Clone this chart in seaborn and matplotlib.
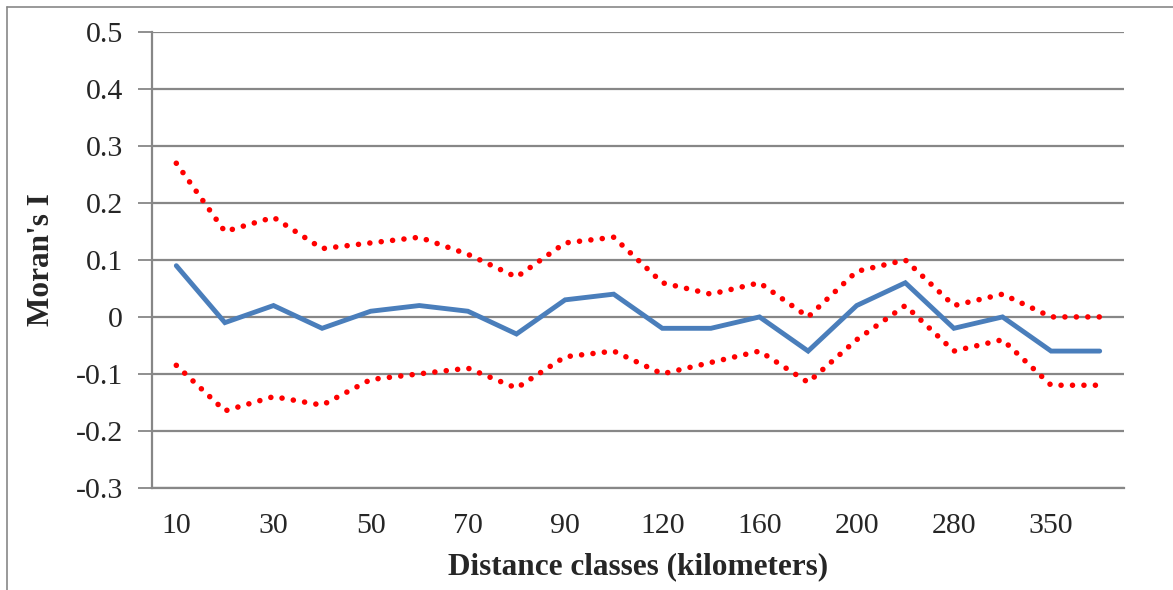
import matplotlib
matplotlib.use("Agg")
import matplotlib.pyplot as plt
import pandas as pd
import seaborn as sns

# Distance classes (km); only every other label is shown on the axis
classes = ["10", "20", "30", "40", "50", "60", "70", "80", "90", "100",
           "120", "140", "160", "180", "200", "240", "280", "320", "350", "400"]

morans_i = [0.09, -0.01, 0.02, -0.02, 0.01, 0.02, 0.01, -0.03, 0.03, 0.04,
            -0.02, -0.02, 0.0, -0.06, 0.02, 0.06, -0.02, 0.0, -0.06, -0.06]

upper_ci = [0.27, 0.15, 0.175, 0.12, 0.13, 0.14, 0.11, 0.07, 0.13, 0.14,
            0.06, 0.04, 0.06, 0.0, 0.08, 0.10, 0.02, 0.04, 0.0, 0.0]

lower_ci = [-0.085, -0.165, -0.14, -0.155, -0.11, -0.10, -0.09, -0.125, -0.07, -0.06,
            -0.10, -0.08, -0.06, -0.115, -0.04, 0.02, -0.06, -0.04, -0.12, -0.12]

y_ticks = [0.5, 0.4, 0.3, 0.2, 0.1, 0, -0.1, -0.2, -0.3]
y_tick_labels = ["0.5", "0.4", "0.3", "0.2", "0.1", "0", "-0.1", "-0.2", "-0.3"]

df = pd.DataFrame({"pos": range(len(classes)), "cls": classes, "I": morans_i,
                   "upper": upper_ci, "lower": lower_ci})

sns.set_style("white")
plt.rcParams["font.family"] = ["Liberation Serif", "DejaVu Serif"]

fig = plt.figure(figsize=(11.73, 5.90), dpi=100)
ax = fig.add_axes([152 / 1173, 1 - 487.7 / 590, (1124 - 152) / 1173, (487.7 - 32.3) / 590])

grid_col = "#878787"
for v in y_ticks:
    ax.axhline(v, color=grid_col, lw=1.6, zorder=0)

dot_kw = dict(color="#FF0000", lw=4.0, dashes=(0.01, 2.05), dash_capstyle="round")
sns.lineplot(data=df, x="pos", y="upper", ax=ax, **dot_kw)
sns.lineplot(data=df, x="pos", y="lower", ax=ax, **dot_kw)
sns.lineplot(data=df, x="pos", y="I", ax=ax, color="#4A7EBB", lw=3.5,
             solid_capstyle="round", solid_joinstyle="miter")

ax.set_xlim(-0.5, len(classes) - 0.5)
ax.set_ylim(-0.3, 0.5)
ax.set_xticks(df["pos"][::2])
ax.set_xticklabels(df["cls"][::2])
ax.set_yticks(y_ticks)
ax.set_yticklabels(y_tick_labels)

for side in ["top", "right"]:
    ax.spines[side].set_visible(False)
for side in ["left", "bottom"]:
    ax.spines[side].set_color(grid_col)
    ax.spines[side].set_linewidth(1.6)

ax.tick_params(axis="y", length=10, width=1.3, color=grid_col, direction="out",
               pad=11, labelsize=21.5, left=True)
ax.tick_params(axis="x", length=0, pad=18, labelsize=21.5)

ax.set_xlabel("Distance classes (kilometers)", fontsize=22.5, fontweight="bold", labelpad=10)
ax.set_ylabel("Moran's I", fontsize=22.5, fontweight="bold", labelpad=14)

# chart-area frame (only its left and top edges are inside the image)
x0, y1 = 7 / 1173, 1 - 7 / 590
fig.add_artist(plt.Line2D([x0, x0], [0, y1], color=grid_col, lw=1.2))
fig.add_artist(plt.Line2D([x0, 1], [y1, y1], color=grid_col, lw=1.2))

fig.savefig("out.png", dpi=100)
